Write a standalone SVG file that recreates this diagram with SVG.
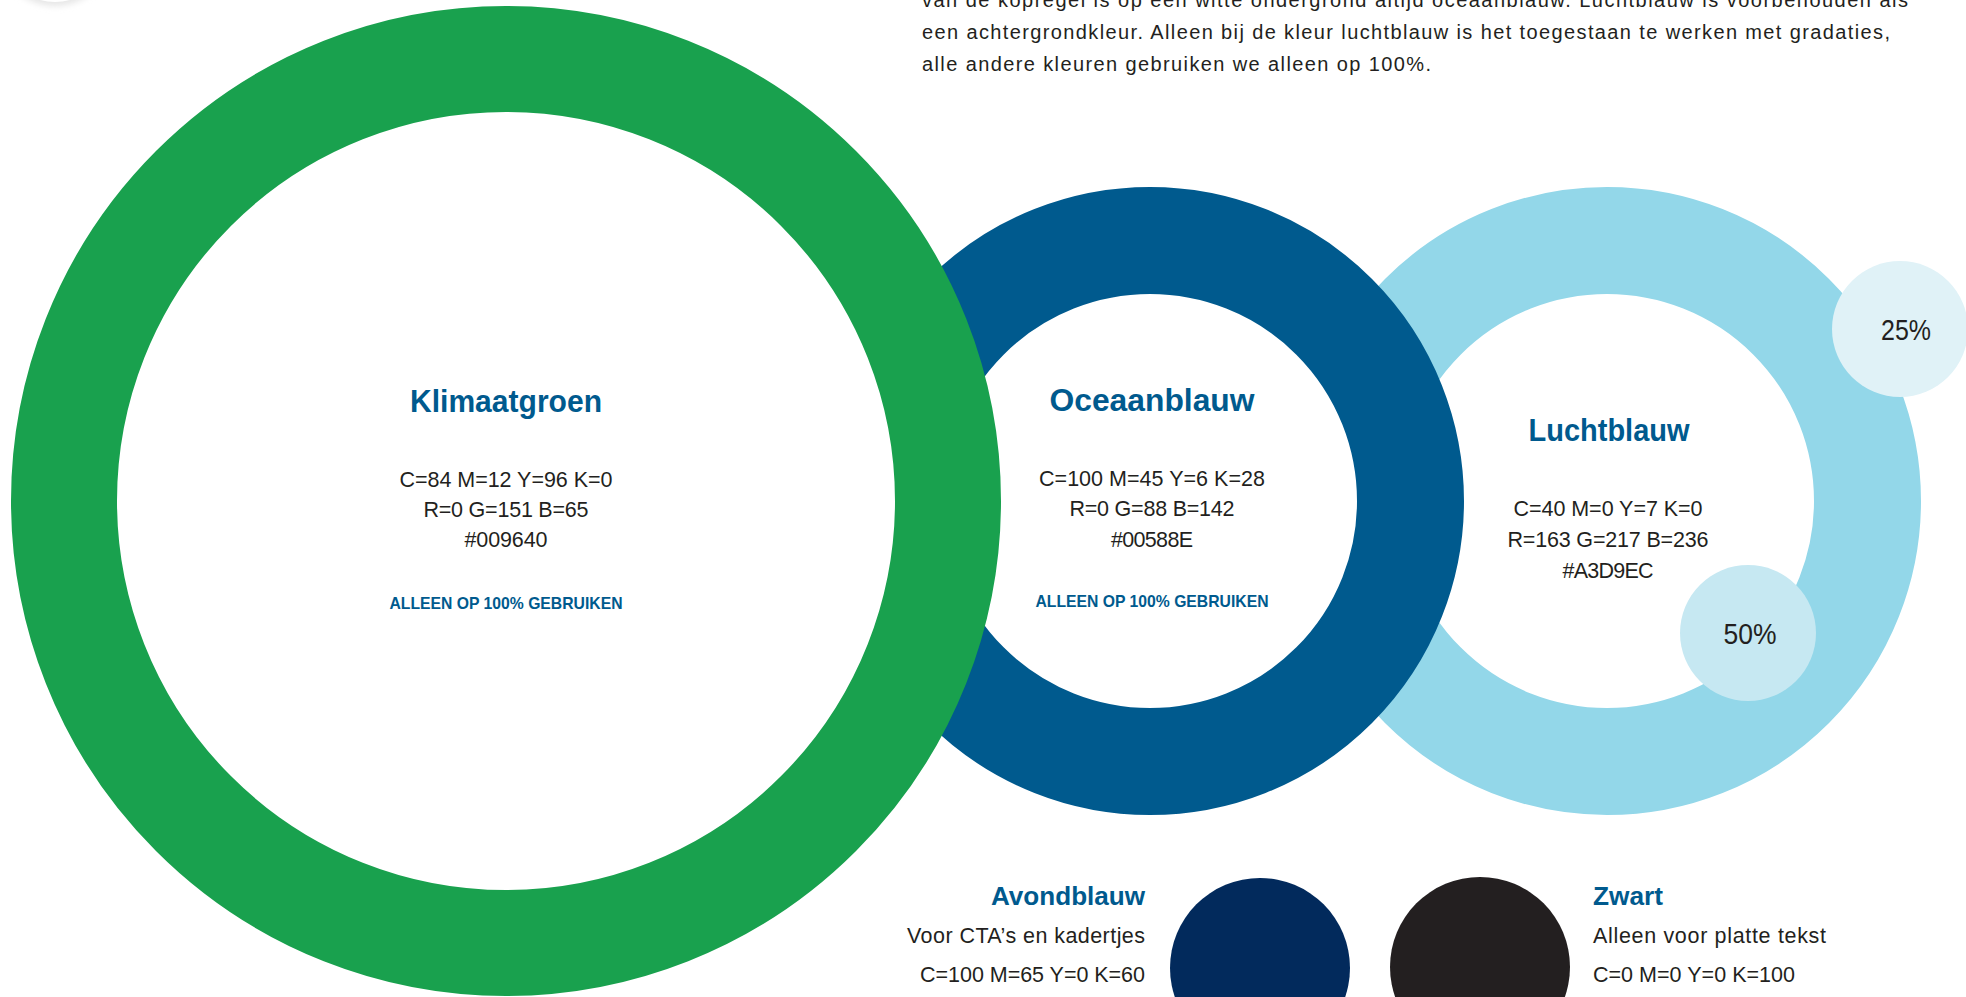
<svg xmlns="http://www.w3.org/2000/svg" width="1966" height="997" viewBox="0 0 1966 997">
<defs>
<style>
text{font-family:"Liberation Sans",Arial,sans-serif;fill:#231f20}
.body{font-size:21.5px}
.para{font-size:20px}
.title{font-size:31px;font-weight:bold;fill:#005a8e}
.sub{font-size:25px;font-weight:bold;fill:#005a8e}
.note{font-size:17px;font-weight:bold;fill:#005a8e}
.pct{font-size:29px}
.mid{text-anchor:middle}
.end{text-anchor:end}
.ring{fill:#ffffff}
</style>
<filter id="soft" x="-50%" y="-50%" width="200%" height="200%"><feGaussianBlur stdDeviation="3"/></filter>
</defs>
<rect width="1966" height="997" fill="#ffffff"/>
<g id="corner-shape"><circle cx="55" cy="-52" r="58" fill="#e6e6e6" filter="url(#soft)"/><circle cx="55" cy="-55" r="57" fill="#ffffff"/></g>
<g id="intro">
<text class="para" x="922" y="7" textLength="986">van de kopregel is op een witte ondergrond altijd oceaanblauw. Luchtblauw is voorbehouden als</text>
<text class="para" x="922" y="39" textLength="968">een achtergrondkleur. Alleen bij de kleur luchtblauw is het toegestaan te werken met gradaties,</text>
<text class="para" x="922" y="71" textLength="509">alle andere kleuren gebruiken we alleen op 100%.</text>
</g>
<g id="luchtblauw">
<circle class="ring" cx="1607" cy="501" r="260.5" stroke="#93d7e9" stroke-width="107"/>
<text class="title mid" x="1609" y="441" textLength="161" lengthAdjust="spacingAndGlyphs">Luchtblauw</text>
<text class="body mid" x="1608" y="516" textLength="189">C=40 M=0 Y=7 K=0</text>
<text class="body mid" x="1608" y="547" textLength="201">R=163 G=217 B=236</text>
<text class="body mid" x="1608" y="578" textLength="91">#A3D9EC</text>
</g>
<g id="tint-25"><circle cx="1900" cy="329" r="68" fill="#e0f2f7"/><text class="pct mid" x="1906" y="340" textLength="50" lengthAdjust="spacingAndGlyphs">25%</text></g>
<g id="tint-50"><circle cx="1748" cy="633" r="68" fill="#c6e8f2"/><text class="pct mid" x="1750" y="644" textLength="53" lengthAdjust="spacingAndGlyphs">50%</text></g>
<g id="oceaanblauw">
<circle class="ring" cx="1150" cy="501" r="260.5" stroke="#005a8e" stroke-width="107"/>
<text class="title mid" x="1152" y="411" textLength="205" lengthAdjust="spacingAndGlyphs">Oceaanblauw</text>
<text class="body mid" x="1152" y="486" textLength="226">C=100 M=45 Y=6 K=28</text>
<text class="body mid" x="1152" y="516" textLength="165">R=0 G=88 B=142</text>
<text class="body mid" x="1152" y="547" textLength="82">#00588E</text>
<text class="note mid" x="1152" y="607" textLength="233" lengthAdjust="spacingAndGlyphs">ALLEEN OP 100% GEBRUIKEN</text>
</g>
<g id="klimaatgroen">
<circle class="ring" cx="506" cy="501" r="442" stroke="#19a14e" stroke-width="106"/>
<text class="title mid" x="506" y="412" textLength="192" lengthAdjust="spacingAndGlyphs">Klimaatgroen</text>
<text class="body mid" x="506" y="487" textLength="213">C=84 M=12 Y=96 K=0</text>
<text class="body mid" x="506" y="517" textLength="165">R=0 G=151 B=65</text>
<text class="body mid" x="506" y="547" textLength="83">#009640</text>
<text class="note mid" x="506" y="609" textLength="233" lengthAdjust="spacingAndGlyphs">ALLEEN OP 100% GEBRUIKEN</text>
</g>
<g id="avondblauw">
<circle cx="1260" cy="968" r="90" fill="#022a5c"/>
<text class="sub end" x="1145" y="905" textLength="154" lengthAdjust="spacingAndGlyphs">Avondblauw</text>
<text class="body end" x="1145" y="943" textLength="238">Voor CTA’s en kadertjes</text>
<text class="body end" x="1145" y="982" textLength="225">C=100 M=65 Y=0 K=60</text>
</g>
<g id="zwart">
<circle cx="1480" cy="967" r="90" fill="#231f20"/>
<text class="sub" x="1593" y="905" textLength="70" lengthAdjust="spacingAndGlyphs">Zwart</text>
<text class="body" x="1593" y="943" textLength="233">Alleen voor platte tekst</text>
<text class="body" x="1593" y="982" textLength="202">C=0 M=0 Y=0 K=100</text>
</g>
<g id="connectors"/>
</svg>
